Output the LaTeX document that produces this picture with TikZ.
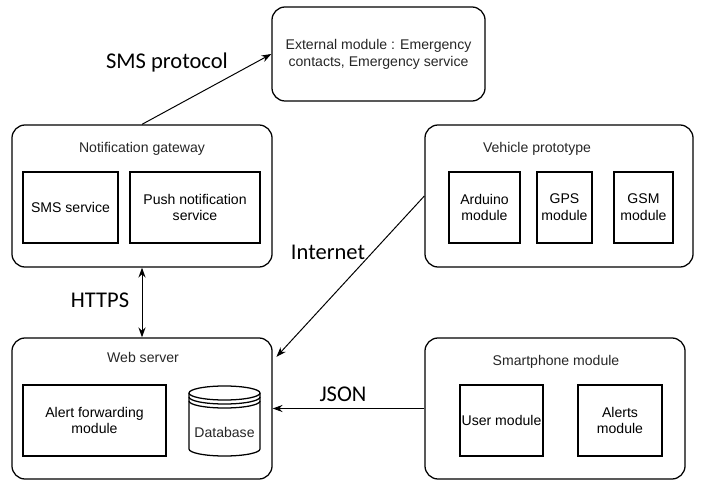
\documentclass[tikz,border=0pt]{standalone}
\usepackage{fontspec}
\setmainfont{Liberation Sans}
\newfontfamily\etiqfont{Carlito}
\usetikzlibrary{positioning, arrows.meta}

\tikzset{
  grupo/.style={draw, line width=0.9pt, rounded corners=0.33cm},
  caja/.style={draw, line width=0.9pt, minimum height=1.775cm, inner sep=0pt, align=center},
  titulo/.style={text=black!85},
  flecha/.style={-{Stealth[length=7pt, width=5pt]}, line width=0.7pt},
  etiq/.style={font=\etiqfont\fontsize{16}{18}\selectfont}
}

\begin{document}
\begin{tikzpicture}[x=0.025cm, y=-0.025cm, font=\fontsize{10}{12}\selectfont]
  \useasboundingbox (0,0) rectangle (701,490);

  % Modulo externo
  \node [grupo, minimum width=5.325cm, minimum height=2.35cm, align=center, text=black!85] (ext) at (378.5,54) {External module : Emergency\\contacts, Emergency service};

  % Notification gateway
  \node [grupo, minimum width=6.5cm, minimum height=3.55cm] (notif) at (142,196) {};
  \node [titulo] (notiftit) at (142,149) {Notification gateway};
  \node [caja, minimum width=2.375cm] (sms) at (70.5,207.5) {SMS service};
  \node [caja, minimum width=3.25cm] (push) at (195,207.5) {Push notification\\service};

  % Vehicle prototype
  \node [grupo, minimum width=6.7cm, minimum height=3.55cm] (veh) at (559,196) {};
  \node [titulo] (vehtit) at (537,149) {Vehicle prototype};
  \node [caja, minimum width=1.775cm] (ard) at (484.5,207.5) {Arduino\\module};
  \node [caja, minimum width=1.375cm] (gps) at (564.5,207.5) {GPS\\module};
  \node [caja, minimum width=1.475cm] (gsm) at (643.5,207.5) {GSM\\module};

  % Web server
  \node [grupo, minimum width=6.5cm, minimum height=3.525cm] (web) at (142,408.5) {};
  \node [titulo] (webtit) at (143,357) {Web server};
  \node [caja, minimum width=3.575cm] (alert) at (94.5,420.5) {Alert forwarding\\module};
  \draw [line width=0.9pt] (189,393) -- (189,449) arc (180:360:0.8875cm and 0.175cm) -- (260,393);
  \draw [line width=0.9pt] (224.5,393) ellipse (0.8875cm and 0.175cm);
  \draw [line width=0.9pt] (189,397) arc (180:360:0.8875cm and 0.175cm);
  \draw [line width=0.9pt] (189,401) arc (180:360:0.8875cm and 0.175cm);
  \node [titulo] (db) at (224.5,432) {Database};

  % Smartphone module
  \node [grupo, minimum width=6.5cm, minimum height=3.525cm] (smart) at (555,408.5) {};
  \node [titulo] (smarttit) at (556,362) {Smartphone module};
  \node [caja, minimum width=2.075cm] (user) at (501.5,420.5) {User module};
  \node [caja, minimum width=2.1cm] (alerts) at (620,420.5) {Alerts\\module};

  % Conexiones
  \draw [flecha] (notif.north) -- (ext.west);
  \draw [flecha, {Stealth[length=7pt, width=5pt]}-{Stealth[length=7pt, width=5pt]}] (notif.south) -- (web.north);
  \draw [flecha, shorten >=4pt] (veh.west) -- (web.20);
  \draw [flecha] (smart.west) -- (web.east);

  \node [etiq] (lsms) at (167,63) {SMS protocol};
  \node [etiq] (lhttps) at (100,300) {HTTPS};
  \node [etiq] (linet) at (328,252) {Internet};
  \node [etiq] (ljson) at (343,394) {JSON};
\end{tikzpicture}
\end{document}
